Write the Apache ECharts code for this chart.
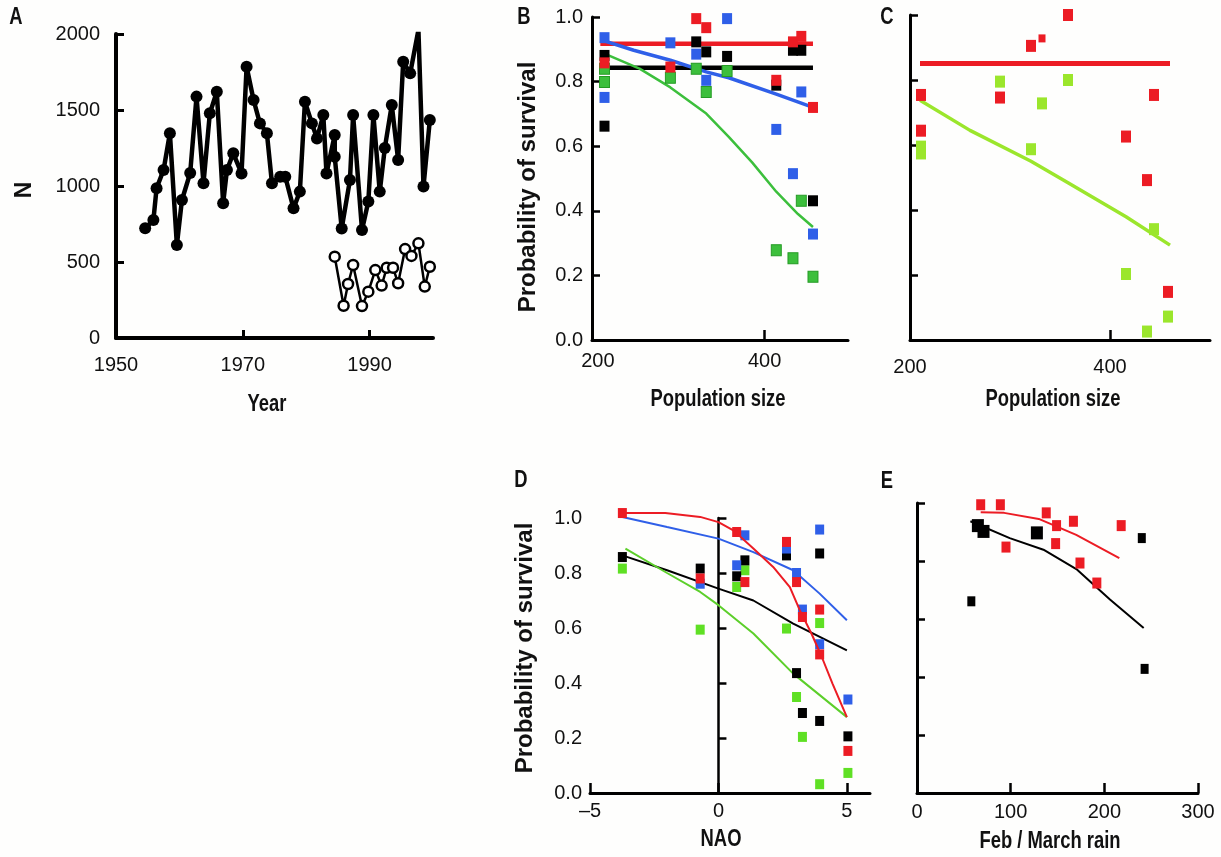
<!DOCTYPE html>
<html><head><meta charset="utf-8">
<script src="https://cdn.jsdelivr.net/npm/echarts@6/dist/echarts.min.js"></script>
<style>html,body{margin:0;padding:0;background:#fefefd}#c{width:1221px;height:857px}</style>
</head><body><div id="c"></div>
<script>
// ---------- Panel A : population size N by year ----------
const aYears = [1954.6,1955.9,1956.4,1957.5,1958.5,1959.6,1960.4,1961.7,1962.7,1963.8,1964.8,1965.9,1966.9,1967.5,1968.5,1969.8,1970.6,1971.7,1972.7,1973.8,1974.6,1975.9,1976.7,1978.0,1979.0,1979.8,1980.9,1981.7,1982.7,1983.2,1984.5,1984.5,1985.6,1986.9,1987.4,1988.8,1989.8,1990.6,1991.6,1992.4,1993.5,1994.5,1995.3,1996.4,1997.7,1998.5,1999.5];
const aN = [722,776,985,1105,1347,612,908,1085,1588,1018,1478,1620,886,1105,1215,1083,1785,1566,1412,1347,1018,1061,1061,853,963,1555,1412,1313,1467,1083,1335,1193,721,1039,1467,711,898,1467,963,1250,1533,1171,1818,1741,2026,996,1434];
const aOpenYears = [1984.5,1985.9,1986.6,1987.4,1988.8,1989.8,1990.9,1991.9,1992.7,1993.7,1994.5,1995.6,1996.6,1997.7,1998.7,1999.5];
const aOpenN = [535,212,355,480,210,305,447,345,462,462,360,585,540,623,338,469];
const aXLabels = [1950,1970,1990];
const aXTicks = [1970,1990];

// ---------- Panel B : survival vs population size ----------
const bBlack = [[208,0.881],[208,0.662],[318,0.923],[330,0.892],[355,0.878],[414,0.789],[434,0.897],[444,0.897],[458,0.431]];
const bRed   = [[208,0.858],[287,0.845],[318,0.995],[330,0.967],[414,0.804],[434,0.923],[444,0.940],[458,0.720]];
const bBlue  = [[208,0.936],[208,0.751],[287,0.920],[318,0.885],[330,0.804],[355,0.995],[414,0.652],[434,0.515],[444,0.768],[458,0.328]];
const bGreen = [[208,0.840],[208,0.799],[287,0.812],[318,0.840],[330,0.768],[355,0.833],[414,0.278],[434,0.253],[444,0.431],[458,0.196]];
const bRedFit   = [[203,0.917],[458,0.917]];
const bBlackFit = [[203,0.843],[458,0.843]];
const bBlueFit  = [[203,0.930],[243,0.897],[287,0.866],[330,0.830],[357,0.812],[414,0.761],[458,0.720]];
const bGreenFit = [[203,0.892],[250,0.840],[287,0.782],[330,0.701],[357,0.629],[385,0.550],[414,0.459],[440,0.390],[458,0.350]];
const popLabels = [200,400];
const popTicks = [400];

// ---------- Panel C ----------
const cRed   = [[211,0.754],[211,0.644],[290,0.746],[321,0.905],[358,1.0],[416,0.626],[437,0.492],[444,0.754],[458,0.148]];
const cRedSmall = [[332,0.928]];
const cGreen = [[211,0.595],[211,0.574],[290,0.795],[321,0.587],[332,0.728],[358,0.800],[416,0.203],[437,0.026],[444,0.341],[458,0.072]];
const cRedFit   = [[210,0.851],[460,0.851]];
const cGreenFit = [[210,0.738],[260,0.645],[321,0.550],[358,0.484],[416,0.379],[460,0.292]];

// ---------- Panel D : survival vs NAO ----------
const dRed   = [[-3.74,1.018],[-0.71,0.780],[0.71,0.949],[1.03,0.767],[2.65,0.913],[3.04,0.767],[3.27,0.640],[3.94,0.667],[3.94,0.504],[5.04,0.153]];
const dBlue  = [[-0.71,0.761],[0.71,0.828],[1.03,0.937],[2.65,0.889],[3.04,0.800],[3.27,0.667],[3.94,0.958],[3.94,0.541],[5.04,0.340]];
const dBlack = [[-3.74,0.858],[-0.71,0.816],[0.71,0.788],[1.03,0.846],[2.65,0.864],[3.04,0.436],[3.27,0.291],[3.94,0.871],[3.94,0.262],[5.04,0.206]];
const dGreen = [[-3.74,0.816],[-0.71,0.594],[0.71,0.749],[1.03,0.810],[2.65,0.598],[3.04,0.349],[3.27,0.204],[3.94,0.618],[3.94,0.032],[5.04,0.073]];
const dRedFit   = [[-3.74,1.018],[-2.07,1.018],[-0.71,1.004],[0,0.985],[0.58,0.955],[1.36,0.889],[2.13,0.822],[2.78,0.749],[3.17,0.664],[3.62,0.580],[4.0,0.500],[4.44,0.398],[5.0,0.276]];
const dBlueFit  = [[-3.74,1.004],[-2.0,0.967],[0,0.925],[1.36,0.876],[2.91,0.810],[3.94,0.725],[5.0,0.628]];
const dBlackFit = [[-3.74,0.864],[-2.0,0.810],[0,0.743],[1.36,0.700],[2.91,0.616],[5.0,0.519]];
const dGreenFit = [[-3.62,0.889],[-2.0,0.800],[-0.71,0.731],[0,0.683],[1.36,0.580],[2.91,0.434],[5.0,0.276]];
const naoValues = [-5,0,5];

// ---------- Panel E : survival vs Feb/March rain ----------
const eRed = [[68,0.994],[89,0.994],[95,0.848],[138,0.966],[149,0.922],[148,0.860],[167,0.937],[174,0.793],[192,0.724],[218,0.922]];
const eBlackBig = [[65,0.922],[71,0.902],[128,0.897]];
const eBlack = [[58,0.661],[240,0.879],[243,0.428]];
const eRedFit = [[68,0.968],[93,0.966],[130,0.945],[170,0.890],[216,0.810]];
const eBlackFit = [[57,0.937],[99,0.879],[135,0.839],[171,0.770],[206,0.667],[242,0.569]];

const RED = '#ec1c24', BLUE = '#2f5fe8', GREENB = '#3cbf3c', GREENC = '#9be62c', GREEND = '#5fe024';
const SANS = '"Liberation Sans",Arial,Helvetica,sans-serif';

function axisBase(gi, lw, tickLen, tickW) {
  return {
    gridIndex: gi, type: 'value',
    axisLine: {show: true, onZero: true, lineStyle: {color: '#000', width: lw}},
    axisTick: {show: true, inside: true, length: tickLen, lineStyle: {color: '#000', width: tickW}},
    splitLine: {show: false},
    axisLabel: {show: true, color: '#111', fontFamily: SANS, fontSize: 20, formatter: v => String(v)}
  };
}
function merge(a, b) {
  const o = Object.assign({}, a);
  for (const k in b) {
    if (b[k] && typeof b[k] === 'object' && !Array.isArray(b[k]) && a[k] && typeof a[k] === 'object') o[k] = merge(a[k], b[k]);
    else o[k] = b[k];
  }
  return o;
}

const grids = [
  {left: 116, top: 34, width: 317, height: 304},
  {left: 592, top: 17, width: 256, height: 323},
  {left: 910, top: 15, width: 300, height: 325},
  {left: 590, top: 518, width: 280, height: 275},
  {left: 917, top: 503, width: 281, height: 290}
].map(g => Object.assign({outerBoundsMode: 'none', containLabel: false}, g));

const probFmt = v => v.toFixed(1);

const xAxes = [
  merge(axisBase(0, 4, 8, 3), {min: 1950, max: 2000,
    axisTick: {customValues: aXTicks},
    axisLabel: {customValues: aXLabels, fontSize: 20, margin: 17}}),
  merge(axisBase(1, 3, 10, 2.5), {min: 193, max: 500,
    axisTick: {customValues: popTicks},
    axisLabel: {customValues: popLabels, margin: 11}}),
  merge(axisBase(2, 3, 10, 2.5), {min: 200, max: 500,
    axisTick: {customValues: popTicks},
    axisLabel: {customValues: popLabels, margin: 17}}),
  merge(axisBase(3, 3, 10, 2.5), {min: -5, max: 5.9,
    axisTick: {customValues: naoValues},
    axisLabel: {customValues: naoValues, margin: 8, formatter: v => (v < 0 ? '\u2013' + Math.abs(v) : String(v))}}),
  merge(axisBase(4, 3, 10, 2.5), {min: 0, max: 300, interval: 100,
    axisLabel: {margin: 9}})
];

const yAxes = [
  merge(axisBase(0, 4, 8, 3), {min: 0, max: 2000, interval: 500,
    axisLabel: {fontSize: 20, margin: 16}}),
  merge(axisBase(1, 3, 8, 2.5), {min: 0, max: 1, interval: 0.2,
    axisLabel: {formatter: probFmt, margin: 9}}),
  merge(axisBase(2, 3, 8, 2.5), {min: 0, max: 1, interval: 0.2,
    axisLabel: {show: false}}),
  merge(axisBase(3, 3, 8, 2.5), {min: 0, max: 1, interval: 0.2, position: 'left',
    axisLine: {show: false, onZero: false}, axisTick: {show: false},
    axisLabel: {formatter: probFmt, margin: 8}}),
  merge(axisBase(3, 2.5, 8, 2.5), {min: 0, max: 1, interval: 0.2, position: 'left',
    axisLine: {onZero: true}, axisLabel: {show: false}}),
  merge(axisBase(4, 3, 8, 2.5), {min: 0, max: 1, interval: 0.2,
    axisLabel: {show: false}})
];

function line(xi, yi, data, color, width, z) {
  return {type: 'line', xAxisIndex: xi, yAxisIndex: yi, data: data, showSymbol: false, symbol: 'none',
    lineStyle: {color: color, width: width}, z: z || 3, silent: true, clip: false, animation: false};
}
function pts(xi, yi, data, color, size, z, border) {
  return {type: 'scatter', xAxisIndex: xi, yAxisIndex: yi, data: data, symbol: 'rect', symbolSize: size,
    itemStyle: Object.assign({color: color, opacity: 1}, border || {}), z: z || 4, clip: false, silent: true, animation: false};
}

const series = [
  // A
  {type: 'line', xAxisIndex: 0, yAxisIndex: 0, data: aYears.map((y, i) => [y, aN[i]]),
    symbol: 'circle', symbolSize: 12, showSymbol: true, lineStyle: {color: '#000', width: 4.5},
    itemStyle: {color: '#000'}, z: 3, animation: false},
  {type: 'line', xAxisIndex: 0, yAxisIndex: 0, data: aOpenYears.map((y, i) => [y, aOpenN[i]]),
    symbol: 'circle', symbolSize: 10, showSymbol: true, lineStyle: {color: '#000', width: 2.5},
    itemStyle: {color: '#fff', borderColor: '#000', borderWidth: 2.5}, z: 4, animation: false},
  // B
  line(1, 1, bBlackFit, '#000', 4.5, 3),
  line(1, 1, bRedFit, RED, 4.5, 3),
  line(1, 1, bBlueFit, BLUE, 3.5, 3),
  line(1, 1, bGreenFit, GREENB, 2.5, 3),
  pts(1, 1, bGreen, GREENB, [10, 11], 4, {borderColor: '#249a24', borderWidth: 1}),
  pts(1, 1, bBlue, BLUE, [10, 11], 4),
  pts(1, 1, bBlack, '#000', [10, 11], 4),
  pts(1, 1, bRed, RED, [10, 11], 4),
  // C
  line(2, 2, cRedFit, RED, 5, 3),
  line(2, 2, cGreenFit, GREENC, 3.5, 3),
  pts(2, 2, cGreen, GREENC, [10, 12], 4),
  pts(2, 2, cRed, RED, [10, 12], 4),
  pts(2, 2, cRedSmall, RED, [7, 8], 4),
  // D
  line(3, 3, dBlackFit, '#000', 2, 3),
  line(3, 3, dGreenFit, '#5ccf2a', 2, 3),
  line(3, 3, dBlueFit, BLUE, 2, 3),
  pts(3, 3, dGreen, GREEND, [9, 10], 4),
  pts(3, 3, dBlack, '#000', [9, 10], 4),
  pts(3, 3, dBlue, BLUE, [9, 10], 4),
  pts(3, 3, dRed, RED, [9, 10], 4),
  line(3, 3, dRedFit, RED, 2, 5),
  // E
  line(4, 5, eRedFit, RED, 2, 3),
  line(4, 5, eBlackFit, '#000', 2, 3),
  pts(4, 5, eRed, RED, [9, 11], 4),
  pts(4, 5, eBlack, '#000', [8, 10], 4),
  pts(4, 5, eBlackBig, '#000', [12, 13], 4)
];

function txt(t, x, y, font, rot, sx) {
  return {type: 'text', x: x, y: y, rotation: rot || 0, scaleX: sx || 1, silent: true,
    style: {text: t, font: font, fill: '#111', align: 'center', verticalAlign: 'middle'}};
}
const BOLD_T = 'bold 23px ' + SANS;
const BOLD_V = 'bold 24px ' + SANS;
const SX = 0.8;
const graphic = [
  txt('A', 16, 18, BOLD_T, 0, SX),
  txt('N', 25, 190, BOLD_T, Math.PI / 2),
  txt('Year', 267, 405, BOLD_T, 0, SX),
  txt('B', 524, 18, BOLD_T, 0, SX),
  txt('Probability of survival', 528, 187, BOLD_V, Math.PI / 2),
  txt('Population size', 718, 400, BOLD_T, 0, SX),
  txt('C', 887, 18, BOLD_T, 0, SX),
  txt('Population size', 1053, 400, BOLD_T, 0, SX),
  txt('D', 521, 481, BOLD_T, 0, SX),
  txt('Probability of survival', 525, 648, BOLD_V, Math.PI / 2),
  txt('NAO', 721, 840, BOLD_T, 0, SX),
  txt('E', 887, 482, BOLD_T, 0, SX),
  txt('Feb / March rain', 1050, 842, BOLD_T, 0, SX)
];

const chart = echarts.init(document.getElementById('c'), null, {renderer: 'canvas'});
chart.setOption({
  backgroundColor: '#fefefd',
  animation: false,
  grid: grids,
  xAxis: xAxes,
  yAxis: yAxes,
  series: series,
  graphic: graphic
});
</script></body></html>
